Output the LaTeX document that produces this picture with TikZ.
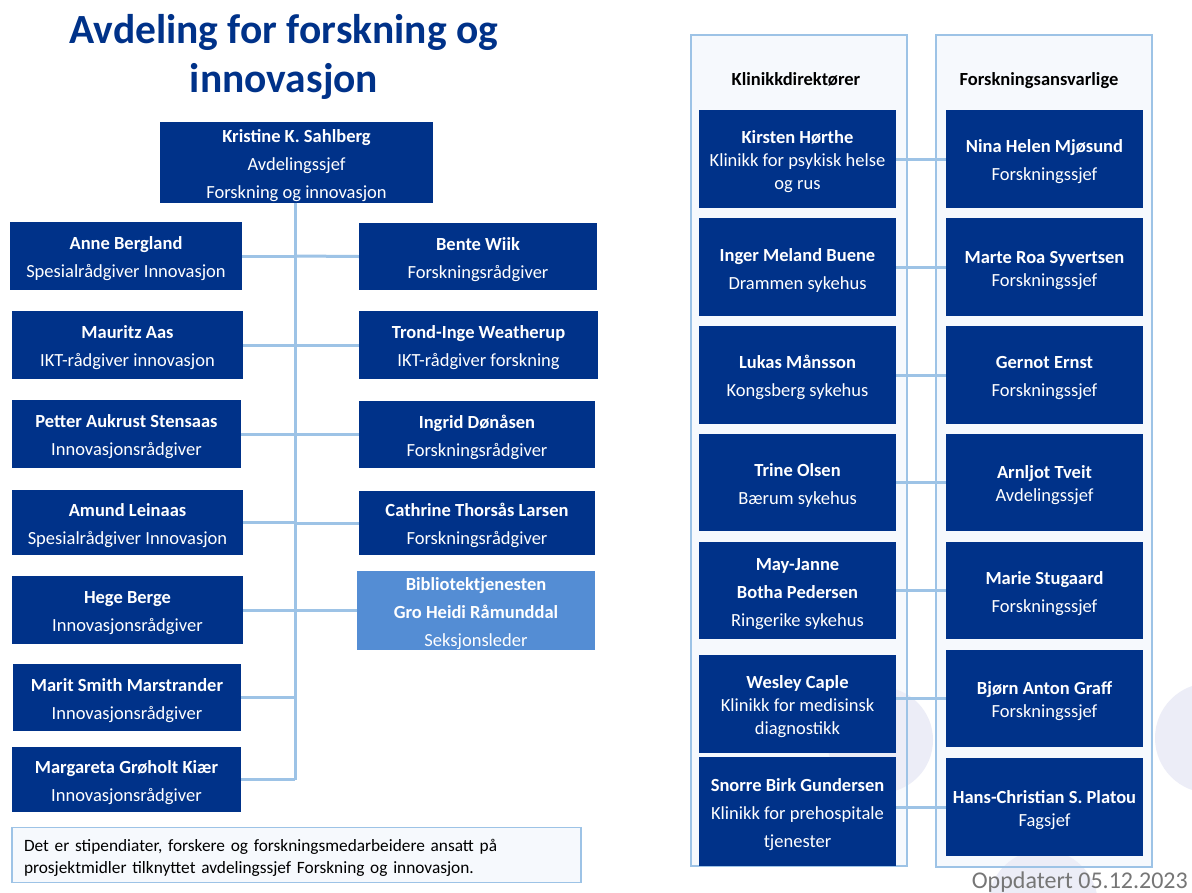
\documentclass[tikz,border=0pt]{standalone}
\usepackage{fontspec}
\setmainfont{Carlito}
\definecolor{navy}{RGB}{0,50,137}
\definecolor{libblue}{RGB}{84,141,212}
\definecolor{linkblue}{RGB}{157,195,230}
\definecolor{panelfill}{RGB}{246,249,253}
\definecolor{wmark}{RGB}{236,237,247}
\definecolor{datgray}{RGB}{118,118,118}
\newcommand{\nm}[1]{\rule{0pt}{19pt}\textbf{#1}}
\tikzset{
  orgbox/.style={fill=navy, text=white, inner sep=0pt, align=center,
    font=\fontsize{18.5}{28}\selectfont},
  tightbox/.style={orgbox, font=\fontsize{18.5}{23}\selectfont},
  libbox/.style={orgbox, fill=libblue},
  link/.style={draw=linkblue, line width=3pt},
  panelbg/.style={fill=panelfill},
  panelframe/.style={draw=linkblue, line width=1.5pt},
  header/.style={font=\fontsize{18.5}{22}\selectfont\bfseries, text=black, anchor=base, inner sep=0pt},
}
\begin{document}
\begin{tikzpicture}[x=1pt,y=-1pt]
\useasboundingbox (0,0) rectangle (1192,892);
\fill[white] (0,0) rectangle (1192,892);

% title
\node[anchor=base, text=navy, font=\fontsize{41.5}{47}\selectfont\bfseries, inner sep=0pt] (title1) at (284,43) {Avdeling for forskning og};
\node[anchor=base, text=navy, font=\fontsize{41.5}{47}\selectfont\bfseries, inner sep=0pt] (title2) at (284,92) {innovasjon};

% left org chart
\node[orgbox, minimum width=273pt, minimum height=81pt] (chief) at (296.5,162.5) {\nm{Kristine K. Sahlberg}\\Avdelingssjef\\Forskning og innovasjon};

\node[orgbox, minimum width=232pt, minimum height=68pt] (anne) at (126,256) {\nm{Anne Bergland}\\Spesialrådgiver Innovasjon};
\node[orgbox, minimum width=231pt, minimum height=68pt] (mauritz) at (127.5,345) {\nm{Mauritz Aas}\\IKT-rådgiver innovasjon};
\node[orgbox, minimum width=229pt, minimum height=68pt] (petter) at (126.5,434) {\nm{Petter Aukrust Stensaas}\\Innovasjonsrådgiver};
\node[orgbox, minimum width=231pt, minimum height=65pt] (amund) at (127.5,522.5) {\nm{Amund Leinaas}\\Spesialrådgiver Innovasjon};
\node[orgbox, minimum width=231pt, minimum height=68pt] (hege) at (127.5,610) {\nm{Hege Berge}\\Innovasjonsrådgiver};
\node[orgbox, minimum width=228pt, minimum height=67pt] (marit) at (127,697.5) {\nm{Marit Smith Marstrander}\\Innovasjonsrådgiver};
\node[orgbox, minimum width=229pt, minimum height=65pt] (margareta) at (126.5,779.5) {\nm{Margareta Grøholt Kiær}\\Innovasjonsrådgiver};

\node[orgbox, minimum width=238pt, minimum height=67pt] (bente) at (478,256.5) {\nm{Bente Wiik}\\Forskningsrådgiver};
\node[orgbox, minimum width=239pt, minimum height=68pt] (trond) at (478.5,345) {\nm{Trond-Inge Weatherup}\\IKT-rådgiver forskning};
\node[orgbox, minimum width=236pt, minimum height=67pt] (ingrid) at (477,434.5) {\nm{Ingrid Dønåsen}\\Forskningsrådgiver};
\node[orgbox, minimum width=236pt, minimum height=64pt] (cathrine) at (477,523) {\nm{Cathrine Thorsås Larsen}\\Forskningsrådgiver};
\node[libbox, minimum width=238pt, minimum height=79pt] (bib) at (476,610.5) {\nm{Bibliotektjenesten}\\\textbf{Gro Heidi Råmunddal}\\Seksjonsleder};

\coordinate (trunk) at (295,0);
\draw[link] (chief.south -| trunk) -- (margareta.east -| trunk);
\foreach \n in {anne,mauritz,petter,amund,hege,marit,margareta}
  \draw[link] (\n.east) -- (\n.east -| trunk);
\draw[link] (bente.west) -- (anne.east -| trunk);
\draw[link] (trond.west) -- (trond.west -| trunk);
\draw[link] (ingrid.west) -- (ingrid.west -| trunk);
\draw[link] (cathrine.west) -- (cathrine.west -| trunk);
\draw[link] (bib.west) -- (bib.west -| trunk);

% note
\node[draw=linkblue, line width=1.5pt, fill=panelfill, minimum width=569pt, minimum height=55pt,
  text width=545pt, align=left, inner xsep=12pt, inner ysep=0pt,
  font=\fontsize{17.3}{21.5}\selectfont, execute at begin node=\rule{0pt}{18pt}] (note) at (296.5,855)
  {Det er stipendiater, forskere og forskningsmedarbeidere ansatt på\\prosjektmidler tilknyttet avdelingssjef Forskning og innovasjon.};

% right panels
\fill[panelbg] (691,35) rectangle (907,866);
\fill[panelbg] (936,35) rectangle (1152,867);
\fill[wmark] (880,740) circle (53);
\fill[wmark] (1210,738) circle (55);
\fill[wmark] (1043,905) circle (55);
\node[panelframe, minimum width=216pt, minimum height=831pt, inner sep=0pt] (panelL) at (799,450.5) {};
\node[panelframe, minimum width=216pt, minimum height=832pt, inner sep=0pt] (panelR) at (1044,451) {};

\node[header] (hdrL) at (796,85) {Klinikkdirektører};
\node[header] (hdrR) at (1039,85) {Forskningsansvarlige};

\node[tightbox, minimum width=197pt, minimum height=98pt] (k1) at (797.5,159) {\nm{Kirsten Hørthe}\\Klinikk for psykisk helse\\og rus};
\node[orgbox, minimum width=197pt, minimum height=98pt] (k2) at (797.5,267) {\nm{Inger Meland Buene}\\Drammen sykehus};
\node[orgbox, minimum width=197pt, minimum height=98pt] (k3) at (797.5,375) {\nm{Lukas Månsson}\\Kongsberg sykehus};
\node[orgbox, minimum width=197pt, minimum height=97pt] (k4) at (797.5,482.5) {\nm{Trine Olsen}\\Bærum sykehus};
\node[orgbox, minimum width=197pt, minimum height=97pt] (k5) at (797.5,590.5) {\nm{May-Janne}\\\textbf{Botha Pedersen}\\Ringerike sykehus};
\node[tightbox, minimum width=197pt, minimum height=98pt] (k6) at (797.5,704) {\nm{Wesley Caple}\\Klinikk for medisinsk\\diagnostikk};
\node[orgbox, minimum width=197pt, minimum height=109pt] (k7) at (797.5,811.5) {\nm{Snorre Birk Gundersen}\\Klinikk for prehospitale\\tjenester};

\node[orgbox, minimum width=197pt, minimum height=98pt] (n1) at (1044.5,159) {\nm{Nina Helen Mjøsund}\\Forskningssjef};
\node[tightbox, minimum width=197pt, minimum height=98pt] (n2) at (1044.5,267) {\nm{Marte Roa Syvertsen}\\Forskningssjef};
\node[orgbox, minimum width=197pt, minimum height=98pt] (n3) at (1044.5,375) {\nm{Gernot Ernst}\\Forskningssjef};
\node[tightbox, minimum width=197pt, minimum height=97pt] (n4) at (1044.5,482.5) {\nm{Arnljot Tveit}\\Avdelingssjef};
\node[orgbox, minimum width=197pt, minimum height=97pt] (n5) at (1044.5,590.5) {\nm{Marie Stugaard}\\Forskningssjef};
\node[tightbox, minimum width=197pt, minimum height=97pt] (n6) at (1044.5,698.5) {\nm{Bjørn Anton Graff}\\Forskningssjef};
\node[tightbox, minimum width=197pt, minimum height=98pt] (n7) at (1044.5,807) {\nm{Hans-Christian S. Platou}\\Fagsjef};

\foreach \i in {1,...,7}
  \draw[link] (k\i.east |- n\i.west) -- (n\i.west);

\node[anchor=base east, text=datgray, font=\fontsize{24}{28}\selectfont, inner sep=0pt] (date) at (1188,888) {Oppdatert 05.12.2023};
\end{tikzpicture}
\end{document}
